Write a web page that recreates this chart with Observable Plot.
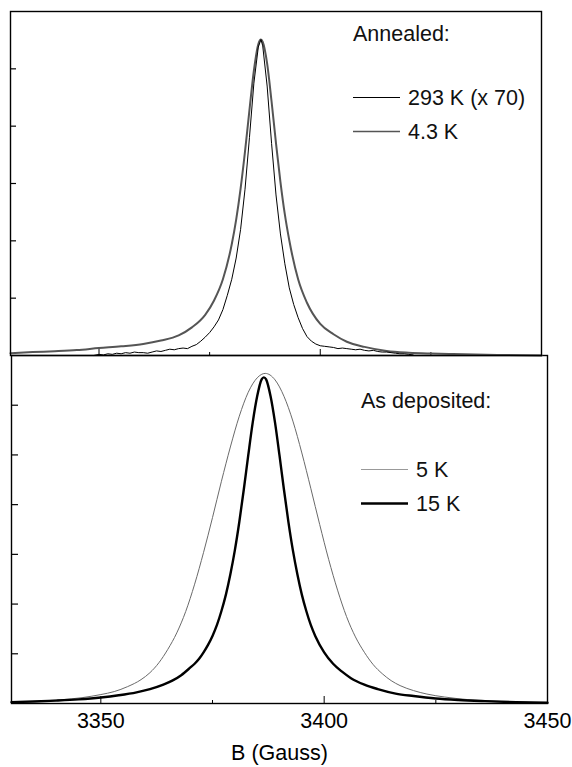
<!DOCTYPE html>
<html>
<head>
<meta charset="utf-8">
<script src="https://cdn.jsdelivr.net/npm/d3@7"></script>
<script src="https://cdn.jsdelivr.net/npm/@observablehq/plot@0.6"></script>
<style>
  body { margin: 0; background: #fff; }
  #wrap { position: relative; width: 572px; height: 767px; font-family: "Liberation Sans", Arial, Helvetica, sans-serif; background:#fff; }
  #top, #bot, #leg { position: absolute; left: 0; }
  #top { top: 0; }
  #bot { top: 353px; }
  #leg { top: 0; pointer-events: none; }
</style>
</head>
<body>
<div id="wrap"><div id="bot"></div><div id="top"></div><svg id="leg" width="572" height="767"></svg></div>
<script>
// ---------- data ----------
const X_DOMAIN = [3330, 3450];
const X_LABELS = [3350, 3400, 3450];
const X_MAJOR = [3350, 3400];
const X_MINOR = [3375, 3425];
const TOP_Y_TICKS = [1, 2, 3, 4, 5];
const BOT_Y_TICKS = [1, 2, 3, 4, 5, 6];
const X_TITLE = "B (Gauss)";

// Annealed, 4.3 K
const ann43_B = [3330,3335,3340,3345,3350,3355,3360,3364,3368,3371,3374,3376,3378,3380,3381,3382,3383,3384,3385,3386,3386.6,3387,3388,3389,3390,3391,3392,3393,3395,3397,3400,3403,3406,3410,3415,3420,3425,3430,3440,3450];
const ann43_I = [0.04,0.06,0.075,0.095,0.13,0.16,0.20,0.26,0.35,0.49,0.71,0.96,1.33,1.94,2.37,2.91,3.56,4.28,4.97,5.43,5.51,5.47,5.09,4.43,3.70,3.03,2.46,2.01,1.33,0.92,0.55,0.37,0.24,0.15,0.08,0.05,0.035,0.025,0.01,0.0];

// Annealed, 293 K (x 70)
const ann293_B = [3348.8,3350,3351,3352,3353,3354,3355,3356,3357,3358,3359,3360,3361,3362,3363,3364,3365,3366,3367,3368,3369,3370,3371,3372,3373,3374,3375,3376,3377,3378,3379,3380,3381,3382,3383,3384,3385,3386,3386.6,3387,3388,3389,3390,3391,3392,3393,3394,3395,3396,3397,3398,3399,3400,3401,3402,3403,3404,3405,3406,3407,3408,3409,3410,3411,3412,3413,3414,3415,3416,3417,3418,3419,3420,3421];
const ann293_I = [0.0,0.02,0.01,0.03,0.02,0.04,0.03,0.05,0.04,0.06,0.05,0.05,0.04,0.06,0.08,0.07,0.09,0.11,0.10,0.12,0.13,0.12,0.16,0.19,0.25,0.32,0.40,0.50,0.62,0.80,1.05,1.33,1.70,2.20,2.90,3.80,4.75,5.38,5.51,5.40,4.70,3.70,2.80,2.12,1.60,1.18,0.89,0.66,0.47,0.33,0.25,0.20,0.17,0.16,0.15,0.14,0.12,0.13,0.12,0.11,0.10,0.11,0.09,0.08,0.09,0.07,0.06,0.06,0.05,0.04,0.03,0.03,0.02,0.01];

// As deposited, 5 K
const dep5_B = [3330,3332,3336,3341,3346,3350,3353,3356,3359,3361,3363,3365,3367,3369,3371,3373,3375,3377,3379,3381,3383,3385,3386.8,3389,3391,3393,3395,3397,3399,3401,3403,3405,3407,3409,3411,3413,3415,3417,3420,3423,3427,3432,3437,3442,3447,3450];
const dep5_I = [0.025,0.03,0.045,0.075,0.12,0.18,0.24,0.34,0.48,0.62,0.82,1.09,1.42,1.85,2.40,3.04,3.74,4.47,5.16,5.78,6.26,6.55,6.64,6.51,6.18,5.68,5.04,4.33,3.60,2.90,2.28,1.75,1.34,1.03,0.78,0.60,0.46,0.36,0.26,0.19,0.13,0.08,0.05,0.03,0.02,0.015];

// As deposited, 15 K
const dep15_B = [3330,3335,3340,3345,3350,3354,3358,3361,3364,3366,3368,3370,3371,3372,3373,3374,3375,3376,3377,3378,3379,3380,3381,3382,3383,3384,3385,3386,3386.5,3387,3388,3389,3390,3391,3392,3393,3394,3395,3396,3397,3398,3400,3402,3404,3406,3409,3412,3416,3420,3425,3430,3436,3443,3450];
const dep15_I = [0.027,0.04,0.058,0.082,0.12,0.165,0.225,0.29,0.38,0.46,0.57,0.72,0.80,0.90,1.03,1.18,1.36,1.58,1.86,2.19,2.60,3.08,3.65,4.30,4.99,5.65,6.18,6.52,6.56,6.52,6.18,5.65,4.99,4.30,3.65,3.08,2.60,2.19,1.86,1.58,1.36,1.03,0.80,0.64,0.51,0.38,0.29,0.20,0.15,0.10,0.07,0.047,0.027,0.015];

const topLegendTitle = "Annealed:";
const topLegendLabels = ["293 K (x 70)", "4.3 K"];
const botLegendTitle = "As deposited:";
const botLegendLabels = ["5 K", "15 K"];

// ---------- build ----------
const zip = (B, I) => B.map((b, i) => ({B: b, I: I[i]}));
const ann43 = zip(ann43_B, ann43_I);
const ann293 = zip(ann293_B, ann293_I);
const dep5 = zip(dep5_B, dep5_I);
const dep15 = zip(dep15_B, dep15_I);

const FONT = '"Liberation Sans", Arial, Helvetica, sans-serif';
const FS = 21.5;
const C43 = "#555", C293 = "#000", C5 = "#6a6a6a", C15 = "#000";
const W43 = 2, W293 = 1, W5 = 1, W15 = 2.4;

// top panel
{
  const W = 572, H = 357, mL = 10, mR = 31, mT = 11, mB = 2;
  const pw = W - mL - mR, ph = H - mT - mB;
  const p = Plot.plot({
    width: W, height: H, marginLeft: mL, marginRight: mR, marginTop: mT, marginBottom: mB,
    x: {domain: X_DOMAIN, axis: null},
    y: {domain: [0, 6], axis: null},
    style: {background: "transparent", overflow: "visible", fontFamily: FONT},
    marks: [
      Plot.tickY(TOP_Y_TICKS, {y: d => d, insetRight: pw - 6, stroke: "#000", strokeWidth: 1.2}),
      Plot.tickX(X_MAJOR, {x: d => d, insetTop: ph - 6, stroke: "#000", strokeWidth: 1}),
      Plot.tickX(X_MINOR, {x: d => d, insetTop: ph - 3, stroke: "#000", strokeWidth: 1}),
      Plot.line(ann43, {x: "B", y: "I", stroke: C43, strokeWidth: W43, curve: "monotone-x"}),
      Plot.line(ann293, {x: "B", y: "I", stroke: C293, strokeWidth: W293}),
      Plot.frame({stroke: "#000", strokeWidth: 1.4})
    ]
  });
  document.getElementById("top").appendChild(p);
}

// bottom panel
{
  const W = 572, H = 414, mL = 11, mR = 25, mT = 2, mB = 64;
  const pw = W - mL - mR, ph = H - mT - mB;
  const p = Plot.plot({
    width: W, height: H, marginLeft: mL, marginRight: mR, marginTop: mT, marginBottom: mB,
    x: {domain: X_DOMAIN},
    y: {domain: [0, 7], axis: null},
    style: {background: "transparent", overflow: "visible", fontFamily: FONT, color: "#000"},
    marks: [
      Plot.axisX({ticks: X_LABELS, tickFormat: d => String(d), tickSize: 0, tickPadding: 9, fontSize: FS, label: X_TITLE, labelAnchor: "center", labelOffset: 56, labelArrow: "none"}),
      Plot.tickY(BOT_Y_TICKS, {y: d => d, insetRight: pw - 7, stroke: "#000", strokeWidth: 1.2}),
      Plot.tickX(X_MAJOR, {x: d => d, insetTop: ph - 7, stroke: "#000", strokeWidth: 1}),
      Plot.tickX(X_MINOR, {x: d => d, insetTop: ph - 3, stroke: "#000", strokeWidth: 1}),
      Plot.line(dep5, {x: "B", y: "I", stroke: C5, strokeWidth: W5, curve: "monotone-x"}),
      Plot.line(dep15, {x: "B", y: "I", stroke: C15, strokeWidth: W15, curve: "monotone-x"}),
      Plot.frame({stroke: "#000", strokeWidth: 1.4})
    ]
  });
  document.getElementById("bot").appendChild(p);
}

// legends
{
  const svg = d3.select("#leg");
  const g = svg.append("g").attr("font-family", FONT).attr("font-size", FS).attr("fill", "#111");
  function legend(title, labels, colors, widths, x0, titleY, rowYs) {
    g.append("text").attr("x", x0).attr("y", titleY).text(title);
    labels.forEach((lab, i) => {
      const y = rowYs[i];
      g.append("line").attr("x1", x0).attr("x2", x0 + 47).attr("y1", y - 7.5).attr("y2", y - 7.5)
        .attr("stroke", colors[i]).attr("stroke-width", widths[i]);
      g.append("text").attr("x", x0 + 55).attr("y", y).text(lab);
    });
  }
  legend(topLegendTitle, topLegendLabels, [C293, C43], [W293, 1.6], 353, 41, [105, 139]);
  legend(botLegendTitle, botLegendLabels, ["#999", C15], [W5, W15], 361, 408, [477, 511]);
}
</script>
</body>
</html>
